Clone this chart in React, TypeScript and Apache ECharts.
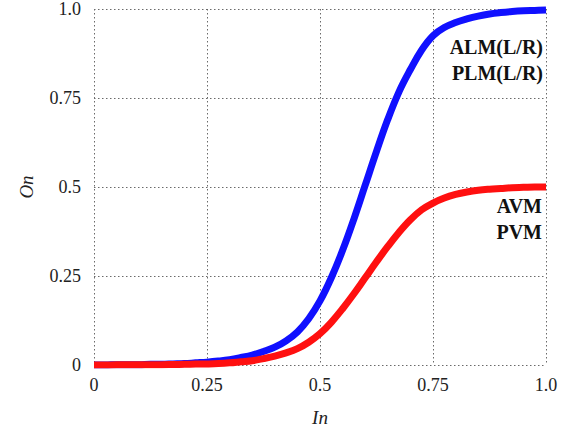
import React, { useEffect, useRef } from "react";
import * as echarts from "echarts";

const xValues = [0, 0.025, 0.05, 0.075, 0.1, 0.125, 0.15, 0.175, 0.2, 0.225, 0.25, 0.275, 0.3, 0.325, 0.35, 0.375, 0.4, 0.425, 0.45, 0.475, 0.5, 0.525, 0.55, 0.575, 0.6, 0.625, 0.65, 0.675, 0.7, 0.725, 0.75, 0.775, 0.8, 0.825, 0.85, 0.875, 0.9, 0.925, 0.95, 0.975, 1.0];
const lateralOut = [0, 0, 0.001, 0.001, 0.001, 0.002, 0.002, 0.003, 0.004, 0.006, 0.008, 0.011, 0.015, 0.021, 0.028, 0.038, 0.05, 0.068, 0.093, 0.13, 0.18, 0.245, 0.322, 0.41, 0.505, 0.6, 0.69, 0.768, 0.83, 0.885, 0.925, 0.948, 0.962, 0.972, 0.98, 0.986, 0.99, 0.993, 0.995, 0.996, 0.997];
const ventralOut = [0, 0, 0.0005, 0.0005, 0.001, 0.001, 0.001, 0.0015, 0.002, 0.0025, 0.003, 0.004, 0.006, 0.009, 0.012, 0.018, 0.025, 0.034, 0.046, 0.064, 0.088, 0.12, 0.158, 0.2, 0.245, 0.29, 0.333, 0.373, 0.408, 0.436, 0.455, 0.469, 0.479, 0.486, 0.491, 0.494, 0.496, 0.498, 0.499, 0.5, 0.5];
const xTickLabels = ["0", "0.25", "0.5", "0.75", "1.0"];
const yTickLabels = ["0", "0.25", "0.5", "0.75", "1.0"];
const blueLabels = ["ALM(L/R)", "PLM(L/R)"];
const redLabels = ["AVM", "PVM"];

const SERIF = '"Liberation Serif", "Times New Roman", Times, serif';

export default function App() {
  const ref = useRef<HTMLDivElement>(null);
  useEffect(() => {
    if (!ref.current) return;
    const chart = echarts.init(ref.current, undefined, { renderer: "svg" });
    const gridLine = { show: true, lineStyle: { color: "#6a6a6a", width: 1, type: [1.5, 2.5] as any } };
    chart.setOption({
      animation: false,
      backgroundColor: "#ffffff",
      grid: { left: 94, right: 19, top: 9, bottom: 68 },
      xAxis: {
        type: "value",
        min: 0,
        max: 1,
        interval: 0.25,
        name: "In",
        nameLocation: "middle",
        nameGap: 43,
        nameTextStyle: { fontFamily: SERIF, fontStyle: "italic", fontSize: 19, color: "#222" },
        axisLine: { show: false },
        axisTick: { show: false },
        splitLine: gridLine,
        axisLabel: {
          fontFamily: SERIF,
          fontSize: 18,
          color: "#222",
          margin: 11,
          formatter: (v: number) => xTickLabels[Math.round(v / 0.25)],
        },
      },
      yAxis: {
        type: "value",
        min: 0,
        max: 1,
        interval: 0.25,
        name: "On",
        nameLocation: "middle",
        nameGap: 58,
        nameTextStyle: { fontFamily: SERIF, fontStyle: "italic", fontSize: 19, color: "#222" },
        axisLine: { show: false },
        axisTick: { show: false },
        splitLine: gridLine,
        axisLabel: {
          fontFamily: SERIF,
          fontSize: 18,
          color: "#222",
          margin: 13,
          formatter: (v: number) => yTickLabels[Math.round(v / 0.25)],
        },
      },
      series: [
        {
          type: "line",
          data: xValues.map((x, i) => [x, ventralOut[i]]),
          showSymbol: false,
          smooth: 0.4,
          lineStyle: { color: "#ff1010", width: 7 },
          z: 3,
        },
        {
          type: "line",
          data: xValues.map((x, i) => [x, lateralOut[i]]),
          showSymbol: false,
          smooth: 0.4,
          lineStyle: { color: "#1010ff", width: 7 },
          z: 2,
        },
      ],
      graphic: [
        ...blueLabels.map((t, i) => ({
          type: "text",
          right: 22,
          top: 37 + i * 26,
          style: { text: t, font: `bold 20px ${SERIF}`, fill: "#111" },
        })),
        ...redLabels.map((t, i) => ({
          type: "text",
          right: 23,
          top: 196 + i * 26,
          style: { text: t, font: `bold 20px ${SERIF}`, fill: "#111" },
        })),
      ],
    });
    return () => chart.dispose();
  }, []);
  return <div ref={ref} style={{ width: 565, height: 433, position: "absolute", left: 0, top: 0 }} />;
}
